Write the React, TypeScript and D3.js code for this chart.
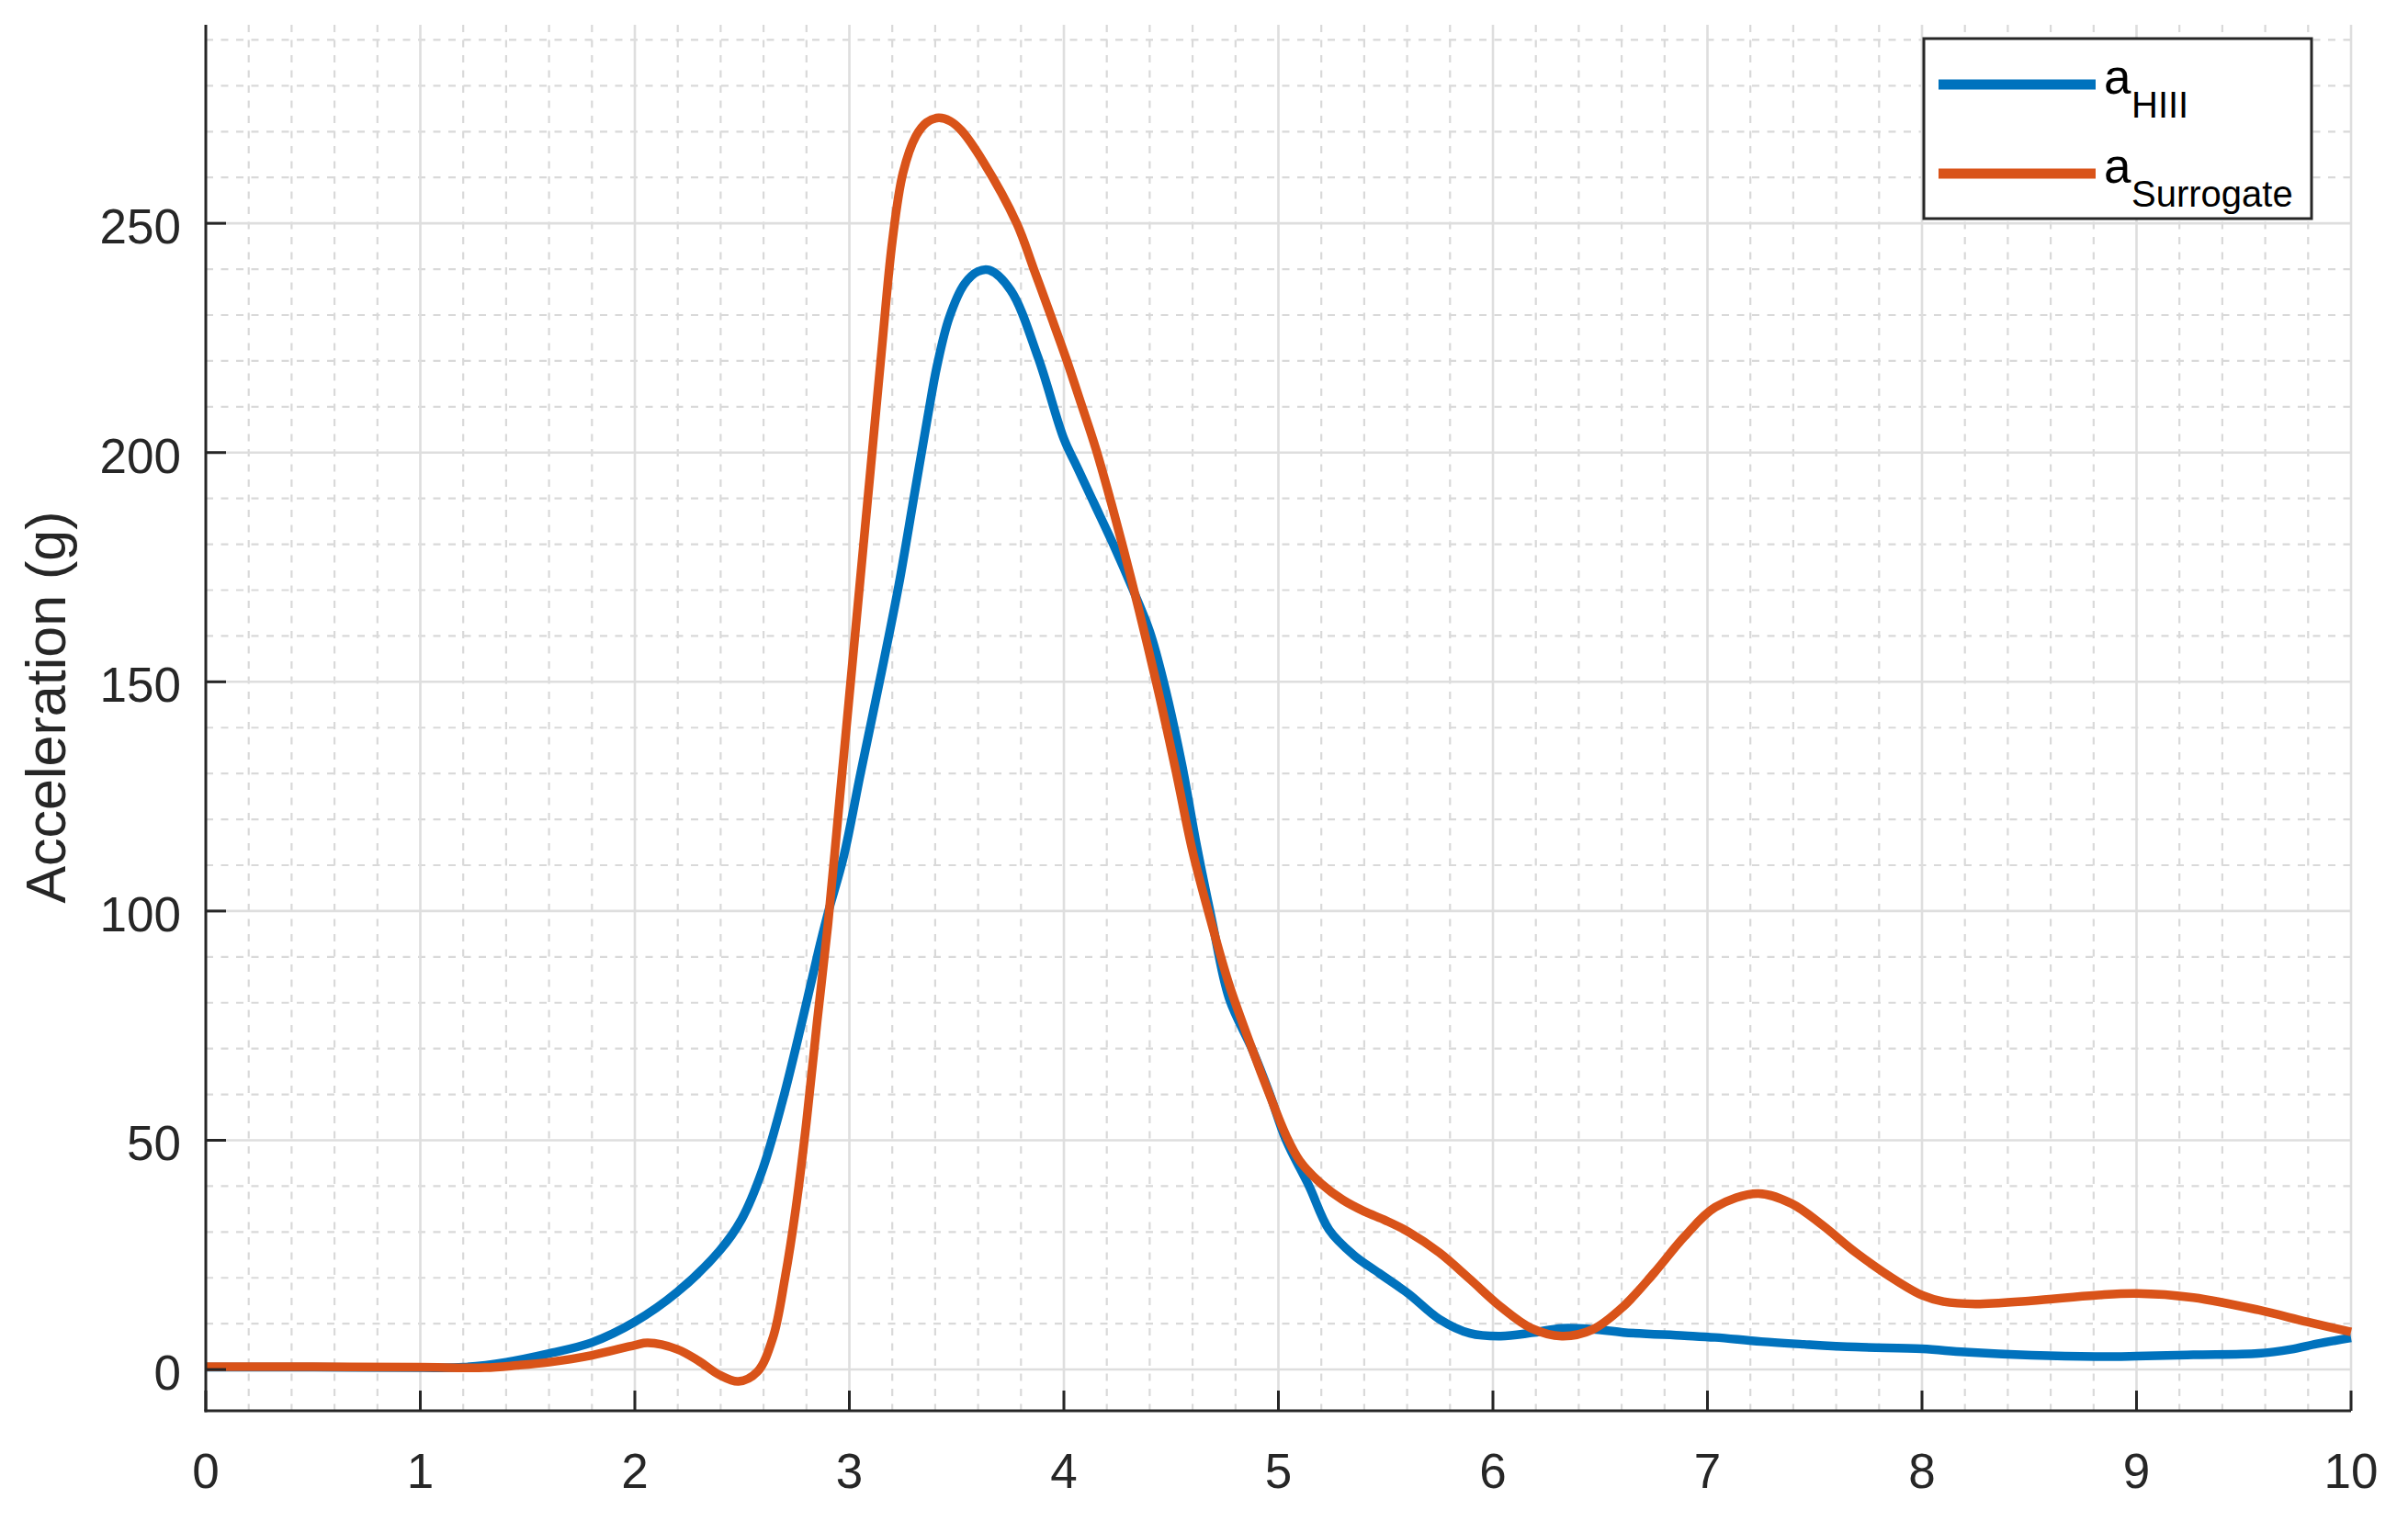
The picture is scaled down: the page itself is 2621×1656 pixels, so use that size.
import React from "react";
import * as d3 from "d3";

const xTicks = [0, 1, 2, 3, 4, 5, 6, 7, 8, 9, 10];
const yTicks = [0, 50, 100, 150, 200, 250];
const yLabel = "Acceleration (g)";
const seriesNames = ["HIII", "Surrogate"];
const seriesColors = ["#0072BD", "#D95319"];

const hiiiX = [0, 0.5, 1.0, 1.2, 1.4, 1.6, 1.8, 2.0, 2.198, 2.395, 2.498, 2.593, 2.688, 2.776, 2.857, 2.9, 2.974, 3.052, 3.145, 3.23, 3.3, 3.366, 3.409, 3.466, 3.537, 3.6, 3.652, 3.752, 3.88, 4.0, 4.06, 4.14, 4.23, 4.323, 4.4, 4.465, 4.55, 4.62, 4.69, 4.77, 4.879, 4.958, 5.036, 5.143, 5.236, 5.35, 5.47, 5.607, 5.75, 5.893, 6.036, 6.179, 6.321, 6.464, 6.607, 6.893, 7.036, 7.25, 7.45, 7.692, 8.0, 8.2, 8.51, 8.81, 9.0, 9.265, 9.568, 9.72, 9.84, 10.0];
const hiiiY = [0.5, 0.5, 0.4, 0.5, 1.6, 3.5, 5.9, 10.4, 16.9, 25.9, 32.8, 43.3, 58.5, 75.2, 91.5, 99.5, 112, 130, 151, 171, 190, 208, 219, 229.5, 236.8, 239.5, 239.8, 235.4, 220.7, 203, 197, 189, 180, 170, 161, 150, 132, 114, 98, 81, 69.7, 60.3, 50, 40, 30.5, 25, 21, 16.5, 11, 7.9, 7.3, 8.0, 9.0, 8.8, 8.1, 7.4, 7.0, 6.1, 5.5, 4.9, 4.5, 3.8, 3.1, 2.8, 2.9, 3.2, 3.5, 4.4, 5.6, 6.9];

const surrX = [0, 0.5, 1.0, 1.3, 1.45, 1.6, 1.8, 2.0, 2.06, 2.198, 2.3, 2.395, 2.483, 2.571, 2.644, 2.7, 2.75, 2.8, 2.85, 2.9, 2.95, 3.0, 3.05, 3.1, 3.15, 3.2, 3.25, 3.31, 3.36, 3.416, 3.47, 3.523, 3.623, 3.78, 3.859, 3.937, 4.009, 4.08, 4.151, 4.273, 4.43, 4.52, 4.6, 4.69, 4.77, 4.879, 4.958, 5.036, 5.1, 5.2, 5.3, 5.4, 5.5, 5.607, 5.75, 5.893, 6.036, 6.179, 6.321, 6.464, 6.607, 6.75, 6.893, 7.036, 7.235, 7.392, 7.535, 7.692, 7.9, 8.0, 8.1, 8.25, 8.508, 8.81, 9.0, 9.265, 9.568, 9.795, 10.0];
const surrY = [0.6, 0.6, 0.5, 0.4, 0.9, 1.6, 3.1, 5.3, 5.8, 4.4, 1.8, -1.2, -2.6, -0.5, 7, 20, 35, 54, 76, 97, 122, 147, 172, 197, 222, 246, 261, 269, 272, 273, 272.3, 270.2, 263.5, 250, 240.1, 230.1, 220.7, 210.7, 200.5, 179.8, 150, 131, 113, 97, 84, 69.7, 60, 51, 45.5, 40.5, 37, 34.5, 32.5, 30, 25.5, 19.7, 13.7, 9.0, 7.3, 8.7, 13.7, 21.0, 29.0, 35.4, 38.4, 36.2, 31.5, 25.5, 18.8, 16.2, 14.8, 14.3, 15.0, 16.2, 16.6, 15.7, 13.0, 10.4, 8.2];

const W = 2621;
const H = 1656;
const FONT = "'Liberation Sans', Arial, Helvetica, sans-serif";
const AX = "#262626";

export default function App() {
  const x = d3.scaleLinear().domain([0, 10]).range([224, 2559]);
  const y = d3.scaleLinear().domain([-9, 293.3]).range([1536, 27]);
  const [x0, x1] = x.range();
  const [yb, yt] = y.range();

  const line = d3
    .line<[number, number]>()
    .x((d) => x(d[0]))
    .y((d) => y(d[1]))
    .curve(d3.curveCatmullRom.alpha(0.5));

  const series = [
    hiiiX.map((v, i) => [v, hiiiY[i]] as [number, number]),
    surrX.map((v, i) => [v, surrY[i]] as [number, number]),
  ];

  const minorX = d3.range(0, 10.001, 0.2).filter((v) => Math.abs(v - Math.round(v)) > 1e-6);
  const minorY = d3.range(0, 293, 10).filter((v) => v % 50 !== 0);
  const majorX = xTicks.filter((v) => v !== 0);

  const legX = 2094, legY = 42, legW = 422, legH = 196;
  const rows = [92, 189];

  return (
    <svg
      width={W}
      height={H}
      style={{ position: "absolute", left: 0, top: 0, background: "#fff" }}
      fontFamily={FONT}
    >
      <rect x={0} y={0} width={W} height={H} fill="#fff" />
      {minorX.map((v) => (
        <line key={"mx" + v} x1={x(v)} x2={x(v)} y1={yt} y2={yb} stroke="#d9d9d9" strokeWidth={2.2} strokeDasharray="8 8.5" />
      ))}
      {minorY.map((v) => (
        <line key={"my" + v} x1={x0} x2={x1} y1={y(v)} y2={y(v)} stroke="#d9d9d9" strokeWidth={2.2} strokeDasharray="8 8.5" />
      ))}
      {majorX.map((v) => (
        <line key={"gx" + v} x1={x(v)} x2={x(v)} y1={yt} y2={yb} stroke="#dedede" strokeWidth={2.6} />
      ))}
      {yTicks.map((v) => (
        <line key={"gy" + v} x1={x0} x2={x1} y1={y(v)} y2={y(v)} stroke="#dedede" strokeWidth={2.6} />
      ))}
      {series.map((s, i) => (
        <path key={"s" + i} d={line(s) || ""} fill="none" stroke={seriesColors[i]} strokeWidth={9.5} strokeLinejoin="round" strokeLinecap="butt" />
      ))}
      <line x1={x0} x2={x0} y1={yt} y2={yb + 1.5} stroke={AX} strokeWidth={3} />
      <line x1={x0 - 1.5} x2={x1} y1={yb} y2={yb} stroke={AX} strokeWidth={3} />
      {yTicks.map((v) => (
        <g key={"yt" + v}>
          <line x1={x0} x2={x0 + 22} y1={y(v)} y2={y(v)} stroke={AX} strokeWidth={3} />
          <text x={197} y={y(v) + 22} textAnchor="end" fontSize={53} fill={AX}>
            {v}
          </text>
        </g>
      ))}
      {xTicks.map((v) => (
        <g key={"xt" + v}>
          <line x1={x(v)} x2={x(v)} y1={yb} y2={yb - 22} stroke={AX} strokeWidth={3} />
          <text x={x(v)} y={1620} textAnchor="middle" fontSize={53} fill={AX}>
            {v}
          </text>
        </g>
      ))}
      <text transform={`translate(71, 770) rotate(-90)`} textAnchor="middle" fontSize={61} fill={AX}>
        {yLabel}
      </text>
      <rect x={legX} y={legY} width={legW} height={legH} fill="#fff" stroke={AX} strokeWidth={3} />
      {seriesNames.map((n, i) => (
        <g key={"lg" + i}>
          <line x1={2110} x2={2281} y1={rows[i]} y2={rows[i]} stroke={seriesColors[i]} strokeWidth={11} />
          <text x={2290} y={rows[i] + 10} fontSize={53} fill="#000">
            a
            <tspan x={2320} dy={25.5} fontSize={40}>
              {n}
            </tspan>
          </text>
        </g>
      ))}
    </svg>
  );
}
